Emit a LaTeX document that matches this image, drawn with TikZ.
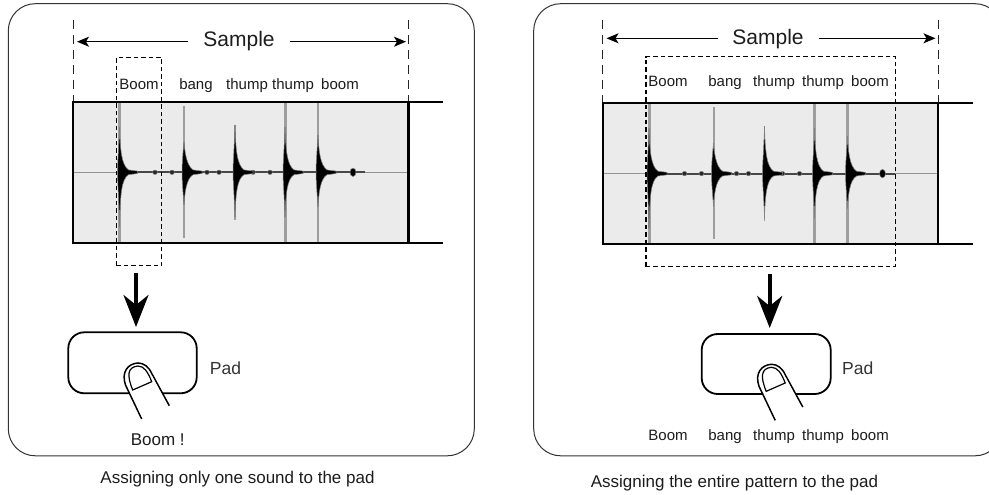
\documentclass[tikz,border=0pt]{standalone}
\usepackage{fontspec}
\setmainfont{Liberation Sans}
\usetikzlibrary{arrows.meta}
\definecolor{wavebg}{HTML}{EBEBEB}
\definecolor{txt}{HTML}{1C1C1C}
\newcommand{\spikeshape}[6]{% x, gray top, gray bot, black top, black bot, gray width
  \draw[color=black!38,line width=#6pt] (#1,#2) -- (#1,#3);
  \filldraw[fill=black,draw=black!50,line width=0.5pt] (#1,#4) .. controls (#1+0.7,172-22) and (#1+2,172-7) .. (#1+9,172.3-2.4)
     -- (#1+18,172.3-1.2) -- (#1+18,172.3+1.2) -- (#1+9,172.3+2.4)
     .. controls (#1+2,172+7) and (#1+0.7,172+22) .. (#1,#5)
     .. controls (#1-0.8,172+22) and (#1-2,172+9) .. (#1-2,172.3)
     .. controls (#1-2,172-9) and (#1-0.8,172-22) .. (#1,#4) -- cycle;
}
\newcommand{\wave}{%
  \fill[wavebg] (73.3,102) rectangle (408.5,243);
  \draw[color=black!42,line width=1.4pt] (74,172.3) -- (408,172.3);
  \draw[color=black!72,line width=2pt] (119,172.3) -- (365,172.3);
  \foreach \dotx in {155,172,207,219,253,270}{\filldraw[fill=black!85,draw=black!50,line width=0.5pt] (\dotx,172.3) ellipse (2.4 and 2.2);}
  \filldraw[fill=black,draw=black!50,line width=0.5pt] (353,172.3) ellipse (3 and 4.2);
  \spikeshape{119.5}{102}{243}{127}{227}{3}
  \spikeshape{184}{106}{238}{142}{205}{2}
  \spikeshape{235}{125}{220}{125}{217}{1.5}
  \spikeshape{285}{102}{243}{127}{217}{3}
  \spikeshape{318}{102}{243}{135}{207}{2.5}
}
\newcommand{\fingerpath}{%
  \filldraw[fill=white,draw=black,line width=1.5pt]
    (141.7,419) -- (125.5,385) .. controls (121,372) and (128,363.5) .. (138,363)
    .. controls (144,363) and (149,367) .. (152,374) -- (169.3,405.7);
  \fill[white] (127,384) -- (152,376) -- (167,405) -- (142,417) -- cycle;
  \draw[black,line width=1.2pt] (132.7,390) .. controls (127,376) and (127,367) .. (138,366)
    .. controls (144,366) and (148,372) .. (151.7,381.7) -- cycle;
}
\tikzset{
  panel/.style={draw=black!80,line width=1pt,rounded corners=27pt,fill=none},
  wavebar/.style={line width=2.2pt,draw=black},
  dashv/.style={line width=1pt,draw=black!85,dash pattern=on 9pt off 6pt},
  dashbox/.style={line width=1.2pt,draw=black,dash pattern=on 4.5pt off 3pt},
  spanarrow/.style={line width=1.2pt,draw=black,-{Stealth[length=12pt,width=10pt,inset=3pt]}},
  downarrow/.style={line width=4pt,draw=black,-{Stealth[length=32pt,width=25pt,inset=10pt]}},
  padbox/.style={draw=black,line width=1.8pt,rounded corners=16pt,fill=white},
  lab/.style={inner sep=0pt,anchor=base,font=\fontsize{15}{15}\selectfont,text=txt},
  boomlab/.style={inner sep=0pt,anchor=base,font=\fontsize{17}{17}\selectfont,text=txt},
  titletext/.style={inner sep=0pt,anchor=base,font=\fontsize{21}{21}\selectfont,text=txt},
  padlab/.style={inner sep=0pt,anchor=base,font=\fontsize{17.5}{17.5}\selectfont,text=black!80},
  captext/.style={inner sep=0pt,anchor=base,font=\fontsize{17}{17}\selectfont,text=txt},
}
\begin{document}
\begin{tikzpicture}[x=1pt,y=-1pt]
\useasboundingbox (0,0) rectangle (989,495);
% left panel
\draw[panel] (8.3,3.7) rectangle (474.3,455.8);
\wave
\draw[dashv] (73.3,20) -- (73.3,102);
\draw[dashv] (408.5,20) -- (408.5,102);
\draw[wavebar] (443,102) -- (73.3,102) -- (73.3,243) -- (443,243);
\draw[wavebar] (408.5,102) -- (408.5,243);
\node[titletext] (lsample) at (239,46.7) {Sample};
\coordinate (lsl) at (188,41.7);
\coordinate (lsr) at (290,41.7);
\coordinate (lel) at (77,41.7);
\coordinate (ler) at (406,41.7);
\draw[spanarrow] (lsl) -- (lel);
\draw[spanarrow] (lsr) -- (ler);
\node[lab] (l1) at (139,89.5) {Boom};
\node[lab] (l2) at (196,89.5) {bang};
\node[lab] (l3) at (247,89.5) {thump};
\node[lab] (l4) at (293,89.5) {thump};
\node[lab] (l5) at (340,89.5) {boom};
\node[dashbox,minimum width=45.7pt,minimum height=208pt,inner sep=0pt] (lbox) at (139,161.7) {};
\node[padbox,minimum width=128.4pt,minimum height=61pt,inner sep=0pt] (lpad) at (132.5,362.8) {};
\coordinate (la) at (136,272.7);
\coordinate (lb) at (136,327);
\draw[downarrow] (la) -- (lb);
\fingerpath
\node[padlab] (lpl) at (225.5,374) {Pad};
\node[boomlab] (lboom) at (157.7,445.5) {Boom !};
\node[captext] (lcap) at (237.5,483) {Assigning only one sound to the pad};
% right panel
\draw[panel] (533.7,3.7) rectangle (1002,455.8);
\begin{scope}[shift={(529.5,1.3)}]
\wave
\end{scope}
\draw[dashv] (602.7,20) -- (602.7,103);
\draw[dashv] (938.2,20) -- (938.2,103);
\draw[wavebar] (973,103.3) -- (602.7,103.3) -- (602.7,244.3) -- (973,244.3);
\draw[wavebar] (938.2,103.3) -- (938.2,244.3);
\node[titletext] (rsample) at (768,45) {Sample};
\coordinate (rsl) at (718,38.3);
\coordinate (rsr) at (819,38.3);
\coordinate (rel) at (606.5,38.3);
\coordinate (rer) at (935.5,38.3);
\draw[spanarrow] (rsl) -- (rel);
\draw[spanarrow] (rsr) -- (rer);
\node[lab] (r1) at (668,87) {Boom};
\node[lab] (r2) at (725,87) {bang};
\node[lab] (r3) at (774,87) {thump};
\node[lab] (r4) at (823,87) {thump};
\node[lab] (r5) at (870,87) {boom};
\node[dashbox,minimum width=249.7pt,minimum height=210pt,inner sep=0pt] (rbox) at (770.8,161.7) {};
\node[padbox,minimum width=129pt,minimum height=60pt,inner sep=0pt] (rpad) at (766.2,364) {};
\coordinate (ra) at (769.7,274);
\coordinate (rb) at (769.7,328);
\draw[downarrow] (ra) -- (rb);
\begin{scope}[shift={(633.5,1.3)}]
\fingerpath
\end{scope}
\node[padlab] (rpl) at (857.7,374.5) {Pad};
\node[lab] (b1) at (668,440.5) {Boom};
\node[lab] (b2) at (725,440.5) {bang};
\node[lab] (b3) at (774,440.5) {thump};
\node[lab] (b4) at (823,440.5) {thump};
\node[lab] (b5) at (870,440.5) {boom};
\node[captext] (rcap) at (734.5,487) {Assigning the entire pattern to the pad};
\end{tikzpicture}
\end{document}
